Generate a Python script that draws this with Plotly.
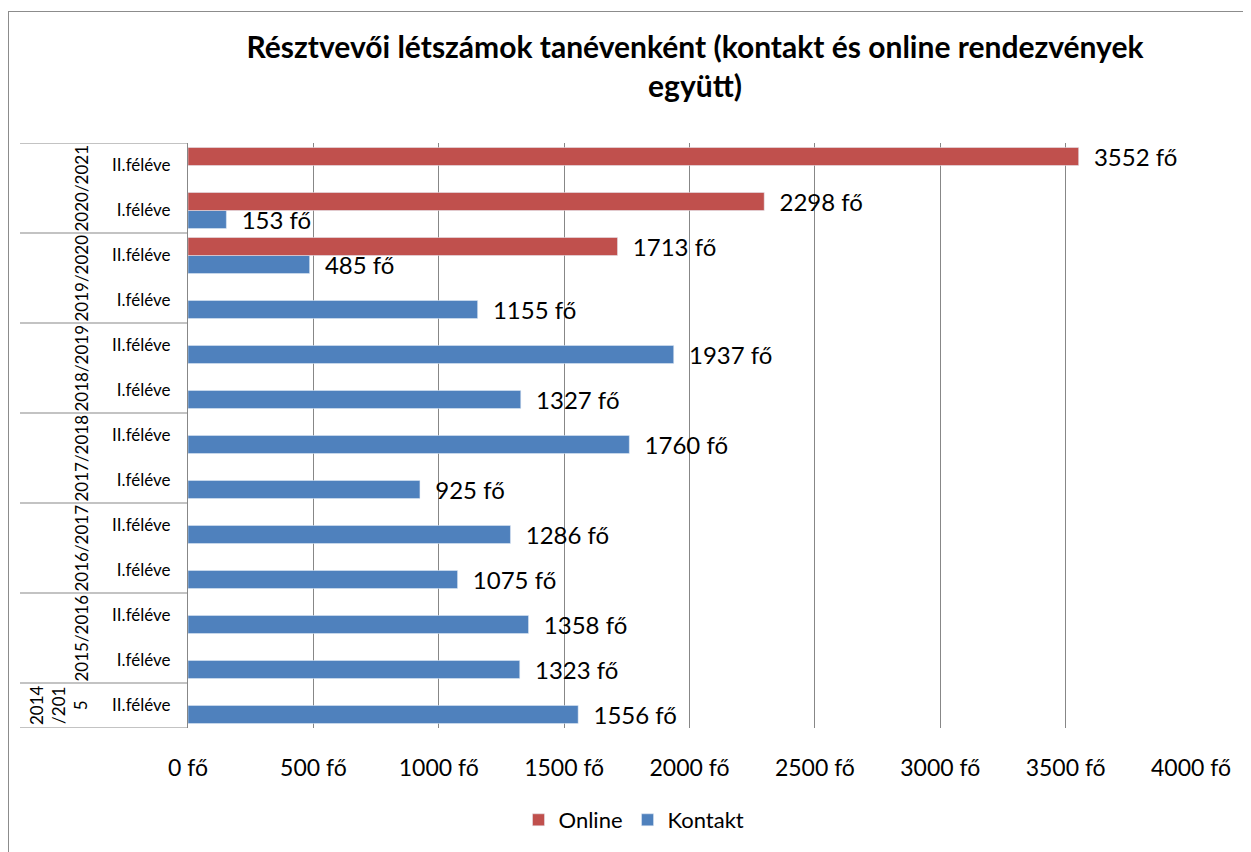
import plotly.graph_objects as go

# ---- data (bottom -> top) ----
years = ["2014/2015", "2015/2016", "2015/2016", "2016/2017", "2016/2017",
         "2017/2018", "2017/2018", "2018/2019", "2018/2019", "2019/2020",
         "2019/2020", "2020/2021", "2020/2021"]
semesters = ["II.féléve", "I.féléve", "II.féléve", "I.féléve", "II.féléve",
             "I.féléve", "II.féléve", "I.féléve", "II.féléve", "I.féléve",
             "II.féléve", "I.féléve", "II.féléve"]
kontakt = [1556, 1323, 1358, 1075, 1286, 925, 1760, 1327, 1937, 1155, 485, 153, None]
online = [None, None, None, None, None, None, None, None, None, None, 1713, 2298, 3552]
year_labels = {"2014/2015": "2014<br>/201<br>5"}
x_ticks = [0, 500, 1000, 1500, 2000, 2500, 3000, 3500, 4000]

keys = [f"{y} {s}" for y, s in zip(years, semesters)]

FONT = "Lato, 'Open Sans', sans-serif"
RED = "#C0504D"
BLUE = "#4F81BD"
GRID = "#878787"

OFF = 8  # default page body margin
W, H = 1251, 852
L, T = 188 - OFF, 143 - OFF
R, B = W - (1191 - OFF), H - (728 - OFF)
PW, PH = W - L - R, H - T - B


def px_x(p):
    return (p - OFF - L) / PW


def px_y(p):
    return (H - B - (p - OFF)) / PH


def lab(v):
    return None if v is None else f"\u00a0\u00a0{v} fő"


fig = go.Figure()
fig.add_trace(go.Bar(
    name="Kontakt", y=keys, x=kontakt, orientation="h",
    marker=dict(color=BLUE),
    text=[lab(v) for v in kontakt], textposition="outside",
    constraintext="none", cliponaxis=False,
    textfont=dict(family=FONT, size=24, color="black"),
))
fig.add_trace(go.Bar(
    name="Online", y=keys, x=online, orientation="h",
    marker=dict(color=RED),
    text=[lab(v) for v in online], textposition="outside",
    constraintext="none", cliponaxis=False,
    textfont=dict(family=FONT, size=24, color="black"),
))

# ---- category table (year groups) ----
shapes = []
annotations = []
groups = []
for i, y in enumerate(years):
    if groups and groups[-1][0] == y:
        groups[-1][2] = i
    else:
        groups.append([y, i, i])

for y, i0, i1 in groups:
    shapes.append(dict(type="line", xref="paper", yref="y",
                       x0=px_x(20), x1=0, y0=i0 - 0.5, y1=i0 - 0.5,
                       line=dict(color=GRID, width=1)))
    annotations.append(dict(
        text=year_labels.get(y, y), xref="paper", yref="y",
        x=px_x(93), y=(i0 + i1) / 2, xanchor="right", yanchor="middle",
        textangle=-90, showarrow=False, align="center",
        font=dict(family=FONT, size=17, color="black")))
shapes.append(dict(type="line", xref="paper", yref="y",
                   x0=px_x(20), x1=0, y0=len(years) - 0.5, y1=len(years) - 0.5,
                   line=dict(color=GRID, width=1)))

# outer chart border
BORDER = "#8c8c8c"
shapes.append(dict(type="line", xref="paper", yref="paper",
                   x0=px_x(8), x1=px_x(1300), y0=px_y(11.5), y1=px_y(11.5),
                   line=dict(color=BORDER, width=1)))
shapes.append(dict(type="line", xref="paper", yref="paper",
                   x0=px_x(8.5), x1=px_x(8.5), y0=px_y(11), y1=px_y(900),
                   line=dict(color=BORDER, width=1)))

fig.update_layout(
    width=W, height=H,
    margin=dict(l=L, r=R, t=T, b=B),
    paper_bgcolor="white", plot_bgcolor="white",
    barmode="group", bargap=0.2, bargroupgap=0,
    font=dict(family=FONT, color="black"),
    title=dict(
        text="<b>Résztvevői létszámok tanévenként (kontakt és online rendezvények<br>együtt)</b>",
        x=(695 - OFF) / W, xanchor="center", y=1 - (58 - OFF) / H, yanchor="top",
        xref="container", yref="container",
        font=dict(family=FONT, size=30, color="black")),
    xaxis=dict(range=[0, 4000], tickvals=x_ticks,
               ticktext=[f"{v} fő" for v in x_ticks],
               showgrid=True, gridcolor=GRID, gridwidth=1,
               zeroline=False, showline=False, ticks="",
               ticklabelstandoff=24,
               tickfont=dict(family=FONT, size=23, color="black")),
    yaxis=dict(type="category", categoryorder="array", categoryarray=keys,
               tickvals=keys, ticktext=semesters, range=[-0.5, len(keys) - 0.5],
               showgrid=False, zeroline=False, showline=True,
               linecolor=GRID, linewidth=1, ticks="",
               ticklabelstandoff=13,
               tickfont=dict(family=FONT, size=17, color="black")),
    legend=dict(orientation="h", x=px_x(634), xanchor="center",
                y=px_y(820), yanchor="middle", traceorder="reversed",
                font=dict(family=FONT, size=22, color="black")),
    showlegend=True,
    shapes=shapes, annotations=annotations,
)

fig.write_html("out.html")
